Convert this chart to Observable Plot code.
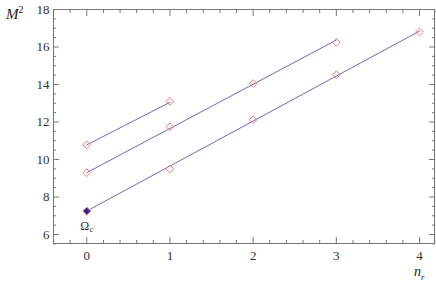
<!DOCTYPE html>
<html><head><meta charset="utf-8">
<script src="https://cdn.jsdelivr.net/npm/d3@7"></script>
<script src="https://cdn.jsdelivr.net/npm/@observablehq/plot@0.6"></script>
<style>body{margin:0;background:#fff}</style>
</head><body><div id="chart"></div>
<script>
const nr1 = [0, 1];
const m1 = [10.78, 13.1];
const nr2 = [0, 1, 2, 3];
const m2 = [9.3, 11.75, 14.05, 16.25];
const nr3 = [0, 1, 2, 3, 4];
const m3 = [7.25, 9.5, 12.12, 14.52, 16.8];
// fitted lines (endpoints)
const fit1 = [[0, 10.78], [1, 13.05]];
const fit2 = [[0, 9.3], [3, 16.37]];
const fit3 = [[0, 7.25], [4, 16.85]];
const special = [{nr: 0, m: 7.25, label: "Ωc"}];
const xMajor = [0, 1, 2, 3, 4];
const xMinor = d3.range(-0.4, 4.21, 0.2).map(v => +v.toFixed(1)).filter(v => !Number.isInteger(v));
const yMajor = [6, 8, 10, 12, 14, 16, 18];
const yMinor = d3.range(5.5, 18.01, 0.5).filter(v => v % 2 !== 0);

const pts = [
  ...nr1.map((x, i) => ({nr: x, m: m1[i]})),
  ...nr2.map((x, i) => ({nr: x, m: m2[i]})),
  ...nr3.map((x, i) => ({nr: x, m: m3[i]}))
];
const lines = [fit1, fit2, fit3].flatMap((f, k) => f.map(([x, y]) => ({nr: x, m: y, s: k})));

const lineColor = "#6a6ac4";
const ptColor = "#f07a7a";
const tickColor = "#777";
const font = "'Liberation Serif', 'DejaVu Serif', serif";

const chart = Plot.plot({
  width: 436, height: 281,
  marginLeft: 53, marginRight: 2, marginTop: 9, marginBottom: 38,
  style: {fontFamily: font, fontSize: "12px", color: "#333", background: "white"},
  x: {domain: [-0.4, 4.18]},
  y: {domain: [5.52, 18]},
  marks: [
    Plot.frame({stroke: tickColor}),
    Plot.axisX(xMajor, {anchor: "bottom", tickSize: -6, tickPadding: 13, stroke: tickColor, label: null, fontSize: 13}),
    Plot.axisX(xMinor, {anchor: "bottom", tickSize: -3, text: null, stroke: tickColor, label: null}),
    Plot.axisX(xMajor, {anchor: "top", tickSize: -6, text: null, stroke: tickColor, label: null}),
    Plot.axisX(xMinor, {anchor: "top", tickSize: -3, text: null, stroke: tickColor, label: null}),
    Plot.axisY(yMajor, {anchor: "left", tickSize: -6, tickPadding: 10, stroke: tickColor, label: null, fontSize: 13}),
    Plot.axisY(yMinor, {anchor: "left", tickSize: -3, text: null, stroke: tickColor, label: null}),
    Plot.axisY(yMajor, {anchor: "right", tickSize: -6, text: null, stroke: tickColor, label: null}),
    Plot.axisY(yMinor, {anchor: "right", tickSize: -3, text: null, stroke: tickColor, label: null}),
    Plot.line(lines, {x: "nr", y: "m", z: "s", stroke: lineColor, strokeWidth: 1}),
    Plot.dot(pts, {x: "nr", y: "m", symbol: "diamond2", r: 3.5, stroke: ptColor, strokeWidth: 1, fill: "none"}),
    Plot.dot(special, {x: "nr", y: "m", symbol: "diamond2", r: 3.5, stroke: ptColor, strokeWidth: 1, fill: "#2a2a9a"}),
    Plot.text(special, {x: "nr", y: "m", text: d => "Ω", dy: 15, dx: -2, fontSize: 12}),
    Plot.text(special, {x: "nr", y: "m", text: d => "c", dy: 18, dx: 5, fontSize: 9, fontStyle: "italic"})
  ]
});
const wrap = document.getElementById("chart");
wrap.style.position = "relative";
wrap.style.width = "436px";
wrap.appendChild(chart);
const mk = (html, css) => { const d = document.createElement("div"); d.innerHTML = html; d.style.cssText = `position:absolute;font-family:${font};font-style:italic;color:#222;` + css; wrap.appendChild(d); };
mk("M<sup style='font-size:10px;font-style:normal'>2</sup>", "left:6px;top:2px;font-size:15px;line-height:16px;");
mk("n<sub style='font-size:9px'>r</sub>", "left:414px;top:265px;font-size:14px;line-height:13px;");
</script>
</body></html>
